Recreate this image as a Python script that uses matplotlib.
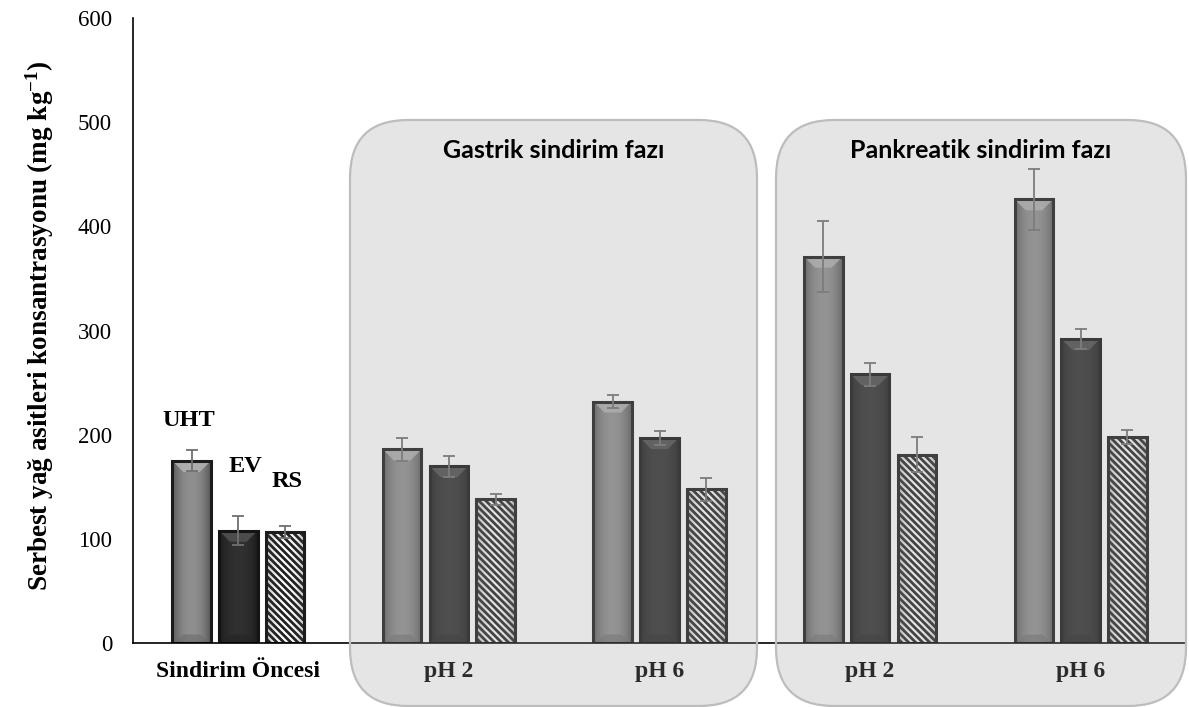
import numpy as np
import matplotlib
matplotlib.use("Agg")
import matplotlib.pyplot as plt
from matplotlib.patches import Rectangle, Polygon, FancyBboxPatch
from matplotlib.collections import LineCollection
from matplotlib.transforms import IdentityTransform

# ---- data -------------------------------------------------------------
categories = ["Sindirim Öncesi", "pH 2", "pH 6", "pH 2", "pH 6"]
series_names = ["UHT", "EV", "RS"]
uht = [175, 186, 232, 371, 426]
ev = [108, 170, 197, 258, 292]
rs = [107, 138, 148, 181, 198]
uht_err = [10, 11, 6, 34, 29]
ev_err = [14, 10, 7, 11, 10]
rs_err = [6, 5, 11, 17, 7]
phase_names = ["Gastrik sindirim fazı", "Pankreatik sindirim fazı"]
y_ticks = [0, 100, 200, 300, 400, 500, 600]
y_label = "Serbest yağ asitleri konsantrasyonu (mg kg$^{-1}$)"

# ---- style -------------------------------------------------------------
plt.rcParams["font.family"] = ["Liberation Serif", "DejaVu Serif"]
plt.rcParams["mathtext.fontset"] = "custom"
plt.rcParams["mathtext.rm"] = "Liberation Serif:bold"
plt.rcParams["mathtext.it"] = "Liberation Serif:bold"
plt.rcParams["mathtext.bf"] = "Liberation Serif:bold"

W, H, DPI = 1189, 707, 100
fig = plt.figure(figsize=(W / DPI, H / DPI), dpi=DPI)
fig.patch.set_facecolor("white")

ax_left, ax_right, ax_top, ax_bottom = 133, 1186, 18, 643.3
ax = fig.add_axes([ax_left / W, (H - ax_bottom) / H,
                   (ax_right - ax_left) / W, (ax_bottom - ax_top) / H])
ax.set_xlim(-0.5, len(categories) - 0.5)
ax.set_ylim(0, 600)

px_x = (ax_right - ax_left) / len(categories)   # pixels per category unit
px_y = (ax_bottom - ax_top) / 600.0             # pixels per data unit

pitch = 0.222
width = 0.183
offsets = [-pitch, 0.0, pitch]

# colour profiles for the bevelled bars (centre, edge, top bevel, bottom bevel)
styles = {
    "UHT": dict(center=0.56, edge=0.34, top=0.70, bottom=0.42, edgecol="#1c1c1c"),
    "EV": dict(center=0.19, edge=0.11, top=0.32, bottom=0.14, edgecol="#141414"),
    "RS": dict(center=1.0, edge=0.80, top=0.95, bottom=0.75, edgecol="#1c1c1c"),
}


def bevel_bar(x_center, height, st, hatched=False):
    x0, x1 = x_center - width / 2, x_center + width / 2
    clip = Rectangle((x0, 0), width, height, transform=ax.transData,
                     facecolor="none", edgecolor="none")
    ax.add_patch(clip)
    t = np.linspace(-1, 1, 64)
    prof = st["center"] + (st["edge"] - st["center"]) * np.abs(t) ** 2.2
    if hatched:
        ax.add_patch(Rectangle((x0, 0), width, height, facecolor="white",
                               edgecolor="none", zorder=2))
        # diagonal stripes drawn in pixel space and clipped to the bar
        disp = ax.transData.transform([(x0, 0), (x1, height)])
        (dx0, dy0), (dx1, dy1) = disp
        period = 7.0
        segs = []
        k = dx0 - (dy1 - dy0) - period
        while k < dx1 + period:
            segs.append([(k, dy1 + 5), (k + (dy1 - dy0) + 10, dy0 - 5)])
            k += period
        lc = LineCollection(segs, colors="#222222", linewidths=2.0,
                            transform=IdentityTransform(), zorder=2.2)
        ax.add_collection(lc)
        lc.set_clip_path(clip)
        rgba = np.zeros((1, 64, 4))
        rgba[..., :3] = 0.25
        rgba[..., 3] = np.clip((1 - prof) * 1.6, 0, 1)
        img = ax.imshow(rgba, extent=[x0, x1, 0, height], aspect="auto",
                        zorder=2.3, interpolation="bilinear")
        img.set_clip_path(clip)
    else:
        rgb = np.repeat(prof[None, :, None], 3, axis=2)
        img = ax.imshow(rgb, extent=[x0, x1, 0, height], aspect="auto",
                        zorder=2, interpolation="bilinear")
        img.set_clip_path(clip)
        # top and bottom bevel faces
        bx = 11 / px_x
        bh = min(11 / px_y, height / 2)
        g = st["top"]
        ax.add_patch(Polygon([(x0, height), (x1, height), (x1 - bx, height - bh),
                              (x0 + bx, height - bh)], closed=True,
                             facecolor=(g, g, g, 0.85), edgecolor="none",
                             zorder=2.4))
        g = st["bottom"]
        ax.add_patch(Polygon([(x0, 0), (x1, 0), (x1 - bx, bh * 0.8),
                              (x0 + bx, bh * 0.8)], closed=True,
                             facecolor=(g, g, g, 0.6), edgecolor="none",
                             zorder=2.4))
    ax.add_patch(Rectangle((x0, 0), width, height, facecolor="none",
                           edgecolor=st["edgecol"], linewidth=2.2, zorder=3))


xs = np.arange(len(categories))
for vals, errs, name, off in zip([uht, ev, rs], [uht_err, ev_err, rs_err],
                                 series_names, offsets):
    for x, v in zip(xs, vals):
        bevel_bar(x + off, v, styles[name], hatched=(name == "RS"))
    ax.errorbar(xs + off, vals, yerr=errs, fmt="none", ecolor="#707070",
                elinewidth=1.3, capsize=4.5, capthick=1.3, zorder=4)

ax.set_xlim(-0.5, len(categories) - 0.5)
ax.set_ylim(0, 600)

# axes cosmetics
for s in ["top", "right"]:
    ax.spines[s].set_visible(False)
for s in ["left", "bottom"]:
    ax.spines[s].set_color("black")
    ax.spines[s].set_linewidth(1.2)
    ax.spines[s].set_zorder(5)
ax.set_yticks(y_ticks)
ax.set_yticklabels([str(v) for v in y_ticks], fontsize=16.5)
ax.tick_params(axis="y", length=0, pad=15)
ax.set_xticks(xs)
ax.set_xticklabels(categories, fontsize=17, fontweight="bold")
ax.tick_params(axis="x", length=0, pad=13)
ax.set_facecolor("none")

fig.text(40 / W, (H - 326) / H, y_label, rotation=90, ha="center",
         va="center", fontsize=19.5, fontweight="bold")

# series labels next to the first group
ax.text(-0.234, 214, "UHT", ha="center", va="center", fontsize=17.5,
        fontweight="bold", zorder=6)
ax.text(0.032, 170, "EV", ha="center", va="center", fontsize=17.5,
        fontweight="bold", zorder=6)
ax.text(0.231, 155, "RS", ha="center", va="center", fontsize=17.5,
        fontweight="bold", zorder=6)

# translucent rounded panels marking the digestion phases
panels = [(350, 757), (776, 1186)]
top_px, bot_px = 120, 706
for (l, r), name in zip(panels, phase_names):
    box = FancyBboxPatch((l / DPI, (H - bot_px) / DPI), (r - l) / DPI,
                         (bot_px - top_px) / DPI,
                         boxstyle="round,pad=0,rounding_size=0.58",
                         transform=fig.dpi_scale_trans,
                         facecolor=(0.63, 0.63, 0.63, 0.27),
                         edgecolor="#bdbdbd", linewidth=1.6, zorder=10)
    fig.add_artist(box)
    fig.text(((l + r) / 2) / W, (H - 151) / H, name, ha="center", va="center",
             fontsize=18, fontweight="bold", family=["Lato", "DejaVu Sans"],
             zorder=11)

fig.savefig("out.png", dpi=DPI)
